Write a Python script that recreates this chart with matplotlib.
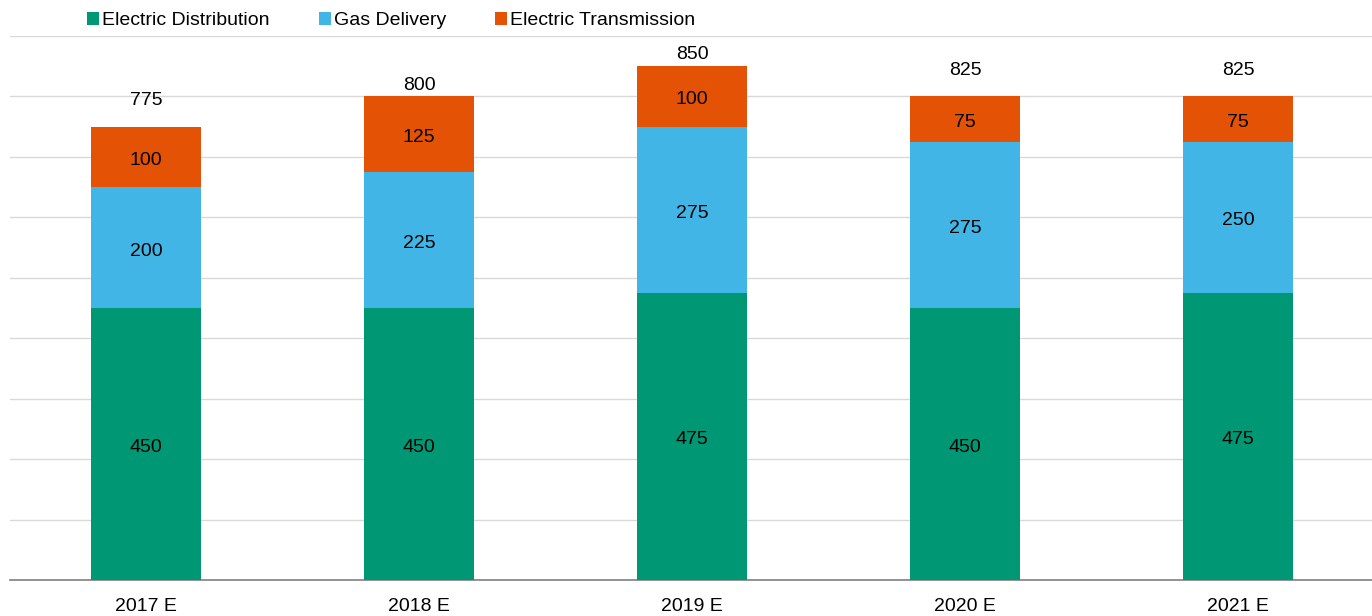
import numpy as np
import matplotlib
matplotlib.use("Agg")
import matplotlib.pyplot as plt

plt.rcParams["font.family"] = ["Liberation Sans", "DejaVu Sans"]

years = ["2017 E", "2018 E", "2019 E", "2020 E", "2021 E"]
electric_distribution = [450, 450, 475, 450, 475]
gas_delivery = [200, 225, 275, 275, 250]
electric_transmission = [100, 125, 100, 75, 75]
totals = [775, 800, 850, 825, 825]

green = "#009874"
blue = "#41B6E6"
orange = "#E35205"

fig = plt.figure(figsize=(13.72, 6.16), dpi=100)
ax = fig.add_axes([9.5 / 1372, 36 / 616, 1365 / 1372, (580 - 36) / 616])

x = np.arange(len(years))
w = 0.4
ed = np.array(electric_distribution)
gd = np.array(gas_delivery)
et = np.array(electric_transmission)

b1 = ax.bar(x, ed, w, color=green, label="Electric Distribution", zorder=3)
b2 = ax.bar(x, gd, w, bottom=ed, color=blue, label="Gas Delivery", zorder=3)
b3 = ax.bar(x, et, w, bottom=ed + gd, color=orange, label="Electric Transmission", zorder=3)

fs = 14
for vals, bottoms in [(ed, 0 * ed), (gd, ed), (et, ed + gd)]:
    for xi, v, b in zip(x, vals, bottoms):
        ax.annotate(f"{v}", (xi, b + v / 2), xytext=(0, -2.5), textcoords="offset points",
                    ha="center", va="center", fontsize=fs, zorder=4)

for xi, t in zip(x, totals):
    ax.annotate(f"{t}", (xi, t), xytext=(0, 2), textcoords="offset points",
                ha="center", va="bottom", fontsize=fs)

ax.set_xlim(-0.5, 4.5)
ax.set_ylim(0, 900)
ax.set_yticks(np.arange(0, 901, 100))
ax.set_yticklabels([])
ax.tick_params(axis="y", length=0)
ax.tick_params(axis="x", length=0, labelsize=fs, pad=13)
ax.set_xticks(x)
ax.set_xticklabels(years)
ax.grid(axis="y", color="#d9d9d9", linewidth=1, zorder=0)
for s in ["top", "right", "left"]:
    ax.spines[s].set_visible(False)
ax.spines["bottom"].set_color("#808080")
ax.spines["bottom"].set_linewidth(1.2)

ax.legend(loc="lower left", bbox_to_anchor=(0.052, 1.0), ncol=3, frameon=False,
          fontsize=fs, handlelength=0.6, handleheight=0.6, handletextpad=0.15,
          columnspacing=2.55, borderaxespad=-0.05)

fig.savefig("out.png", dpi=100)
